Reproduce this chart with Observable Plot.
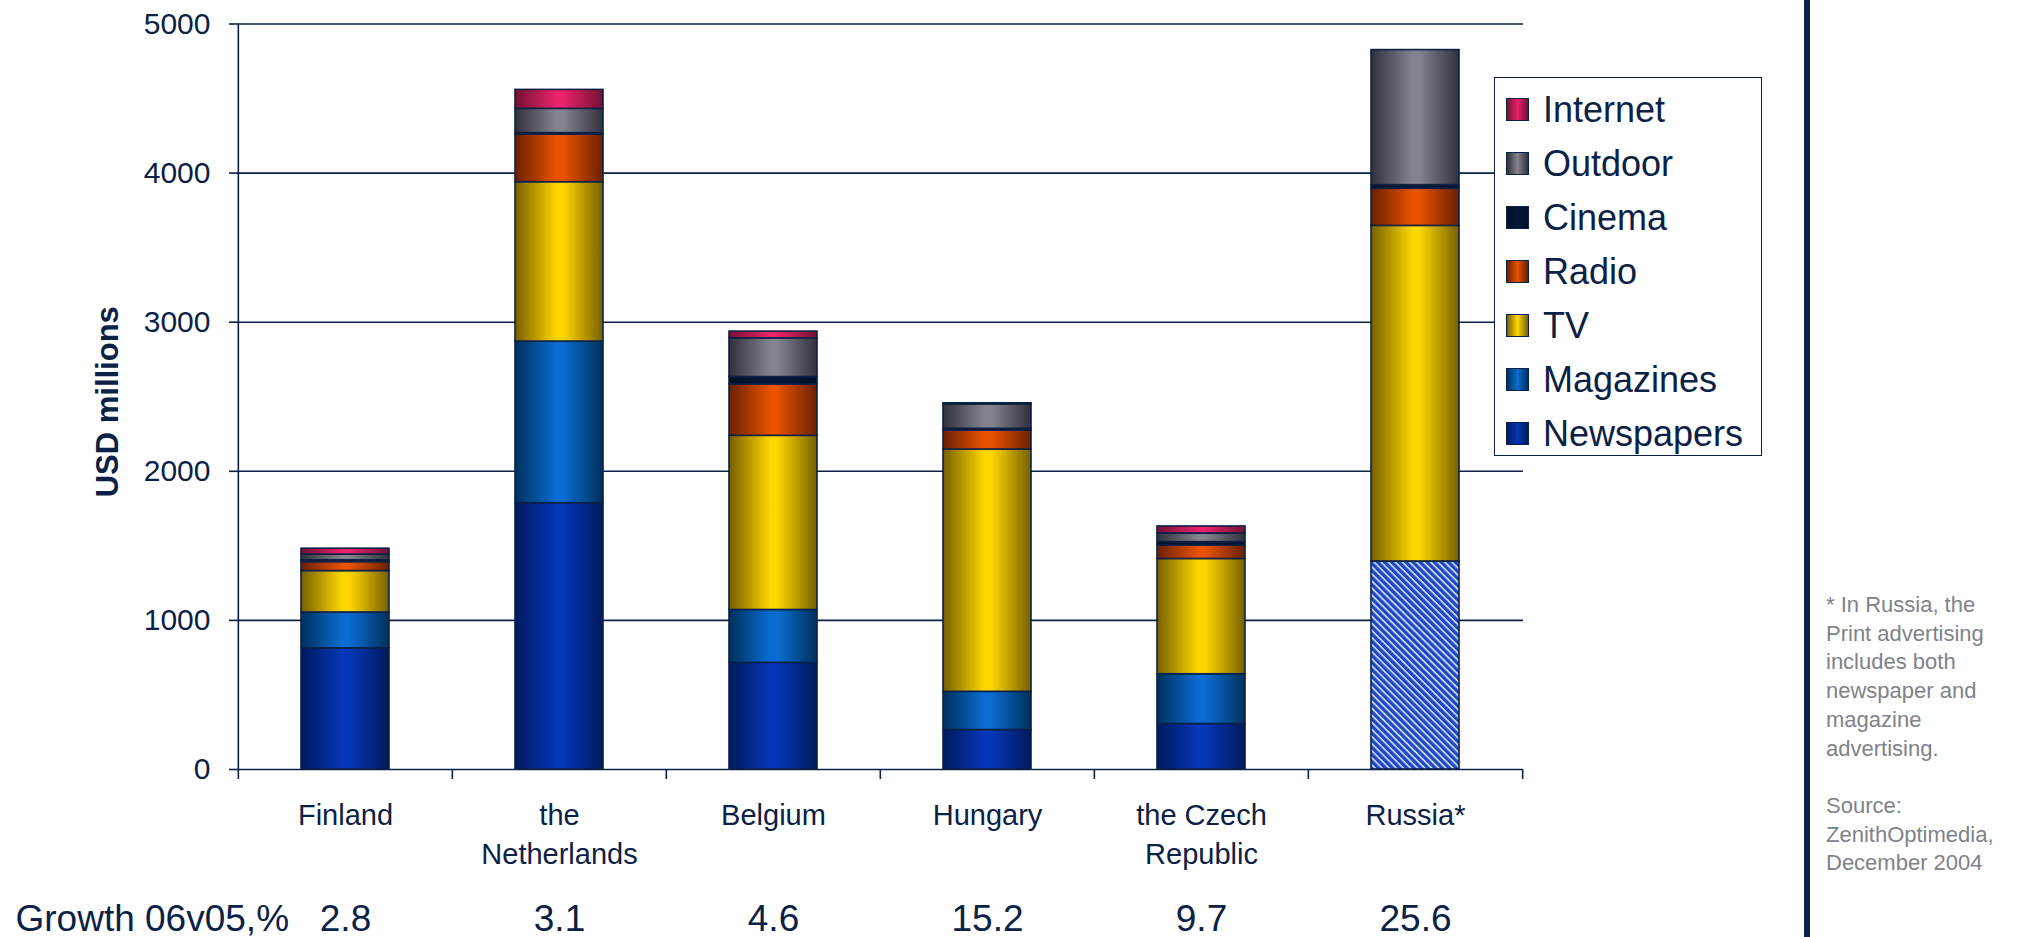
<!DOCTYPE html>
<html>
<head>
<meta charset="utf-8">
<script src="https://cdn.jsdelivr.net/npm/d3@7"></script>
<script src="https://cdn.jsdelivr.net/npm/@observablehq/plot@0.6"></script>
<style>
  html, body { margin: 0; padding: 0; background: #fff; }
  #wrap { position: relative; width: 2031px; height: 937px; overflow: hidden; font-family: "Liberation Sans", Arial, sans-serif; }
  #legend { position: absolute; left: 1494px; top: 77px; width: 266px; height: 377px; border: 1.5px solid #0b2145; background: #fff; box-sizing: content-box; }
  .item { position: absolute; left: 0; height: 54px; display: flex; align-items: center; }
  .sw { width: 21px; height: 21px; border: 1.5px solid #0b2145; margin-left: 11px; }
  .lab { font-size: 36px; line-height: 1; color: #0b2145; margin-left: 14px; white-space: nowrap; }
  #vbar { position: absolute; left: 1804px; top: 0; width: 6px; height: 937px; background: #0b2145; }
  #note { position: absolute; left: 1826px; top: 591px; font-size: 22px; line-height: 28.7px; color: #80828a; white-space: pre; }
</style>
</head>
<body>
<div id="wrap"></div>
<script>
// ---- data ----
const countries = ["Finland", "the Netherlands", "Belgium", "Hungary", "the Czech Republic", "Russia*"];
const countryLabels = ["Finland", "the\nNetherlands", "Belgium", "Hungary", "the Czech\nRepublic", "Russia*"];
const seriesNames = ["Newspapers", "Magazines", "TV", "Radio", "Cinema", "Outdoor", "Internet"];
const newspapers = [813, 1786, 715, 265, 305, 1395];
const magazines  = [240, 1084, 355, 256, 334, 0];
const tv         = [278, 1069, 1168, 1625, 773, 2251];
const radio      = [60, 319, 345, 127, 89, 249];
const cinema     = [12, 10, 49, 12, 24, 24];
const outdoor    = [38, 163, 260, 163, 58, 906];
const internet   = [40, 127, 45, 8, 47, 0];
const growth     = [2.8, 3.1, 4.6, 15.2, 9.7, 25.6];
const yTicks     = [0, 1000, 2000, 3000, 4000, 5000];
const growthLabel = "Growth 06v05,%";
const yLabel = "USD millions";
const noteText = "* In Russia, the\nPrint advertising\nincludes both\nnewspaper and\nmagazine\nadvertising.\n\nSource:\nZenithOptimedia,\nDecember 2004";

// ---- styles ----
const ink = "#0b2145";
const grads = {
  Newspapers: ["#001a5c", "#0636b8"],
  Magazines:  ["#00305c", "#0a6cd2"],
  TV:         ["#766000", "#ffd600"],
  Radio:      ["#6a2000", "#e85200"],
  Cinema:     ["#020f26", "#06183a"],
  Outdoor:    ["#30313a", "#82838d"],
  Internet:   ["#741034", "#ea226c"]
};
const keyOf = s => "g_" + s;

const valuesBySeries = [newspapers, magazines, tv, radio, cinema, outdoor, internet];
const table = [];
seriesNames.forEach((s, si) => {
  countries.forEach((c, ci) => {
    const print = (c === "Russia*" && s === "Newspapers");
    table.push({country: c, series: s, key: print ? "Print" : s, value: valuesBySeries[si][ci]});
  });
});

const W = 2031, H = 937;
const mL = 237, mR = 508, mT = 23.5, mB = 168;
const step = (W - mL - mR) / countries.length;

const colorDomain = [...seriesNames, "Print"];
const colorRange = colorDomain.map(s => s === "Print" ? "url(#hatch)" : `url(#${keyOf(s)})`);

const chart = Plot.plot({
  width: W, height: H,
  marginLeft: mL, marginRight: mR, marginTop: mT, marginBottom: mB,
  style: {fontFamily: "'Liberation Sans', Arial, sans-serif", color: ink, background: "transparent"},
  x: {domain: countries, paddingInner: 0.59, paddingOuter: 0.295, axis: null},
  y: {domain: [0, 5000], axis: null},
  color: {type: "ordinal", domain: colorDomain, range: colorRange},
  marks: [
    Plot.ruleY(yTicks, {stroke: ink, strokeWidth: 1.6}),
    Plot.barY(table, {x: "country", y: "value", fill: "key", stroke: ink, strokeWidth: 1.6}),
    Plot.ruleX([countries[0]], {x: d => d, dx: -step / 2, y1: 0, y2: 5000, stroke: ink, strokeWidth: 1.6}),
    Plot.ruleX(countries, {x: d => d, dx: -step / 2, y1: 0, y2: 0, insetBottom: -10, stroke: ink, strokeWidth: 1.6}),
    Plot.ruleX([countries[countries.length - 1]], {x: d => d, dx: step / 2, y1: 0, y2: 0, insetBottom: -10, stroke: ink, strokeWidth: 1.6}),
    Plot.axisY({ticks: yTicks, tickSize: 8, tickPadding: 19, fontSize: 30, label: null, stroke: ink, strokeWidth: 1.6, fill: ink, tickFormat: d => String(d)}),
    Plot.text(countries, {x: d => d, text: (d, i) => countryLabels[i], frameAnchor: "bottom", dy: 27, lineAnchor: "top", lineHeight: 1.36, fontSize: 29, fill: ink}),
    Plot.text(countries, {x: d => d, text: (d, i) => growth[i].toFixed(1), frameAnchor: "bottom", dy: 161, lineAnchor: "bottom", fontSize: 37, fill: ink}),
    Plot.text([growthLabel], {text: d => d, frameAnchor: "bottom-left", dx: -222, dy: 161, lineAnchor: "bottom", textAnchor: "start", fontSize: 37, fill: ink}),
    Plot.text([yLabel], {text: d => d, frameAnchor: "left", textAnchor: "middle", dx: -129, dy: 5, rotate: -90, fontSize: 31, fontWeight: "bold", fill: ink})
  ]
});

// gradient + hatch definitions
const ns = "http://www.w3.org/2000/svg";
const defs = document.createElementNS(ns, "defs");
for (const s of seriesNames) {
  const [edge, mid] = grads[s];
  const lg = document.createElementNS(ns, "linearGradient");
  lg.setAttribute("id", keyOf(s));
  lg.setAttribute("x1", "0"); lg.setAttribute("x2", "1"); lg.setAttribute("y1", "0"); lg.setAttribute("y2", "0");
  [[0, edge], [0.47, mid], [0.55, mid], [1, edge]].forEach(([o, c]) => {
    const st = document.createElementNS(ns, "stop");
    st.setAttribute("offset", o); st.setAttribute("stop-color", c);
    lg.appendChild(st);
  });
  defs.appendChild(lg);
}
const pat = document.createElementNS(ns, "pattern");
pat.setAttribute("id", "hatch");
pat.setAttribute("patternUnits", "userSpaceOnUse");
pat.setAttribute("width", "5"); pat.setAttribute("height", "5");
pat.setAttribute("patternTransform", "rotate(45)");
const pr = document.createElementNS(ns, "rect");
pr.setAttribute("width", "5"); pr.setAttribute("height", "5"); pr.setAttribute("fill", "#1d48c4");
pat.appendChild(pr);
const pl = document.createElementNS(ns, "rect");
pl.setAttribute("x", "0"); pl.setAttribute("y", "0"); pl.setAttribute("width", "5"); pl.setAttribute("height", "1.5"); pl.setAttribute("fill", "#e8eeff");
pat.appendChild(pl);
defs.appendChild(pat);
chart.insertBefore(defs, chart.firstChild);

const wrap = document.getElementById("wrap");
wrap.appendChild(chart);
chart.style.position = "absolute"; chart.style.left = "0"; chart.style.top = "0";

// legend
const legend = document.createElement("div");
legend.id = "legend";
const legendOrder = [...seriesNames].reverse();
legendOrder.forEach((s, i) => {
  const it = document.createElement("div");
  it.className = "item";
  it.style.top = (4.7 + 54 * i) + "px";
  const sw = document.createElement("div");
  sw.className = "sw";
  const [edge, mid] = grads[s];
  sw.style.background = `linear-gradient(to right, ${edge}, ${mid} 50%, ${edge})`;
  const lb = document.createElement("div");
  lb.className = "lab";
  lb.textContent = s;
  it.appendChild(sw); it.appendChild(lb);
  legend.appendChild(it);
});
wrap.appendChild(legend);

const vbar = document.createElement("div");
vbar.id = "vbar";
wrap.appendChild(vbar);

const note = document.createElement("div");
note.id = "note";
note.textContent = noteText;
wrap.appendChild(note);
</script>
</body>
</html>
